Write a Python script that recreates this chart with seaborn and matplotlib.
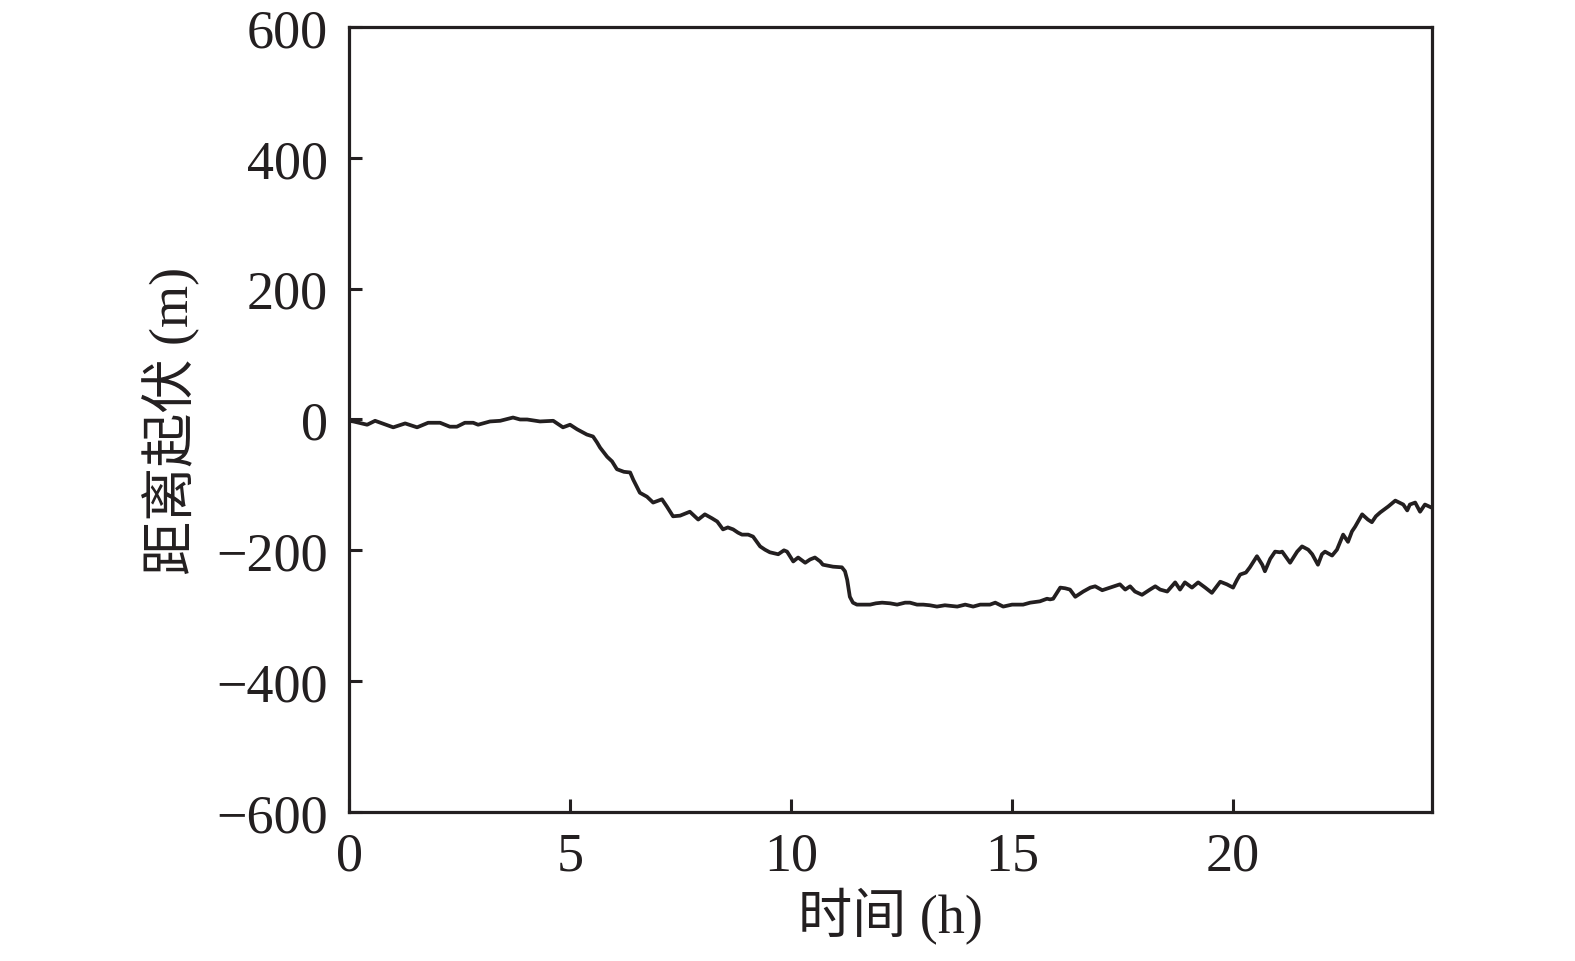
import matplotlib
matplotlib.use("Agg")
import matplotlib.pyplot as plt
import seaborn as sns
import pandas as pd

# time (h) and distance fluctuation (m)
hours = [0.0, 0.1, 0.41, 0.59, 1.0, 1.27, 1.54, 1.79, 2.06, 2.28, 2.44, 2.62, 2.81, 2.92,
         3.19, 3.42, 3.71, 3.87, 4.03, 4.32, 4.62, 4.84, 5.0, 5.16, 5.38, 5.52, 5.61, 5.68,
         5.84, 5.95, 6.06, 6.22, 6.36, 6.43, 6.58, 6.74, 6.88, 7.08, 7.19, 7.33, 7.49, 7.71,
         7.9, 8.05, 8.21, 8.33, 8.46, 8.57, 8.69, 8.8, 8.89, 9.03, 9.14, 9.3, 9.41, 9.52,
         9.71, 9.84, 9.91, 10.05, 10.16, 10.32, 10.43, 10.54, 10.66, 10.72, 10.95, 11.15,
         11.22, 11.27, 11.33, 11.4, 11.49, 11.79, 11.92, 12.06, 12.24, 12.4, 12.58, 12.69,
         12.85, 12.99, 13.14, 13.3, 13.48, 13.76, 13.94, 14.12, 14.28, 14.5, 14.62, 14.8,
         15.0, 15.25, 15.41, 15.63, 15.79, 15.86, 15.93, 16.09, 16.2, 16.31, 16.43, 16.61,
         16.77, 16.88, 17.04, 17.22, 17.44, 17.56, 17.67, 17.78, 17.94, 18.12, 18.24, 18.35,
         18.51, 18.69, 18.8, 18.91, 19.07, 19.21, 19.37, 19.52, 19.71, 19.86, 20.0, 20.09,
         20.16, 20.29, 20.38, 20.54, 20.66, 20.72, 20.84, 20.95, 21.06, 21.11, 21.29, 21.45,
         21.56, 21.7, 21.79, 21.92, 22.01, 22.08, 22.24, 22.35, 22.49, 22.6, 22.69, 22.76,
         22.92, 23.05, 23.14, 23.23, 23.33, 23.51, 23.67, 23.85, 23.94, 24.0, 24.12, 24.23,
         24.34, 24.5]
distance = [-2, -3, -8, -2, -12, -6, -12, -5, -5, -11, -11, -5, -5, -8,
            -3, -2, 3, 0, 0, -3, -2, -12, -8, -15, -23, -26, -35, -43,
            -57, -64, -76, -80, -81, -92, -112, -118, -127, -122, -133, -148, -147, -141,
            -153, -145, -151, -156, -168, -165, -168, -173, -176, -176, -179, -194, -199, -203,
            -206, -200, -202, -217, -211, -219, -214, -211, -217, -222, -225, -226,
            -232, -245, -271, -280, -283, -283, -281, -280, -281, -283, -280, -280,
            -283, -283, -284, -286, -284, -286, -283, -286, -283, -283, -280, -286,
            -283, -283, -280, -278, -274, -275, -274, -257, -258, -260, -271, -263,
            -257, -255, -261, -257, -252, -260, -255, -263, -268, -260, -255, -260,
            -263, -249, -260, -249, -257, -249, -257, -265, -248, -252, -257, -245,
            -237, -234, -226, -209, -222, -232, -213, -202, -203, -202, -219, -202,
            -194, -199, -206, -222, -206, -202, -208, -199, -176, -187, -171, -164,
            -145, -153, -157, -148, -142, -133, -124, -130, -139, -130, -127, -141,
            -130, -135]

x_ticks = [0, 5, 10, 15, 20]
y_ticks = [-600, -400, -200, 0, 200, 400, 600]

df = pd.DataFrame({"time": hours, "dist": distance})

sns.set_style("ticks")
plt.rcParams["font.family"] = ["Liberation Serif", "Noto Sans CJK SC"]
plt.rcParams["axes.unicode_minus"] = True

fig = plt.figure(figsize=(15.75, 9.62), dpi=100)
ax = fig.add_axes([0.2216, 0.1549, 0.9092 - 0.2216, 0.9709 - 0.1549])

sns.lineplot(data=df, x="time", y="dist", ax=ax, color="#231f20",
             linewidth=2.7, estimator=None)

ax.set_xlim(0, 24.5)
ax.set_ylim(-600, 600)
ax.set_xticks(x_ticks)
ax.set_yticks(y_ticks)
ax.tick_params(direction="in", length=9.5, width=2.2, labelsize=39,
               colors="#231f20")
ax.tick_params(axis="y", pad=15)
ax.tick_params(axis="x", pad=14)
for s in ax.spines.values():
    s.set_linewidth(2.3)
    s.set_color("#231f20")

ax.set_xlabel("时间 (h)", fontsize=39, color="#231f20", labelpad=4)
ax.set_ylabel("距离起伏 (m)", fontsize=39, color="#231f20", labelpad=12)

fig.savefig("out.png", dpi=100, facecolor="white")
